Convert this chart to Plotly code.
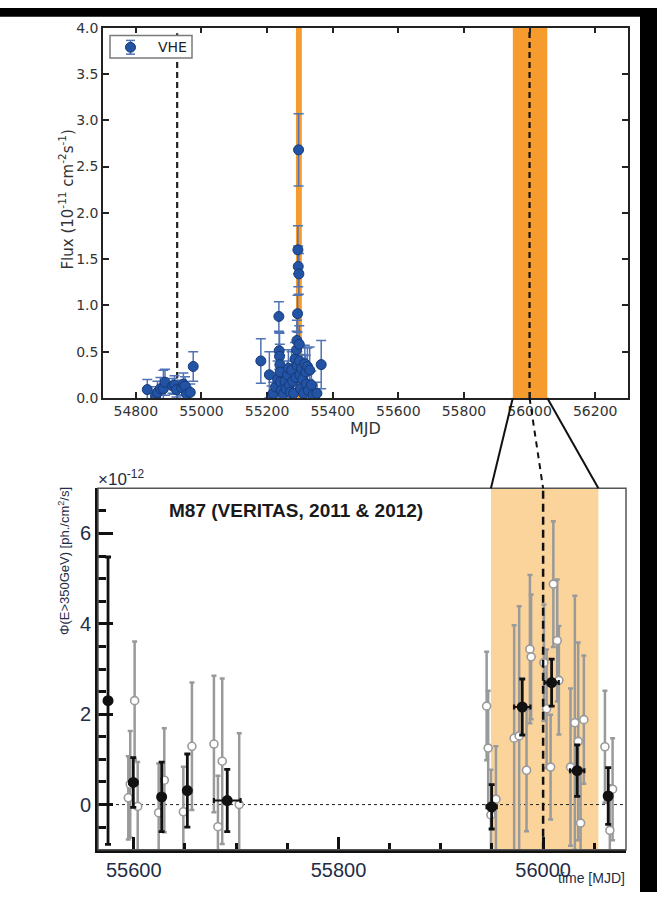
import plotly.graph_objects as go

W, H = 657, 900

# ---------------- upper panel: VHE light curve 2008-2012 ----------------
vhe_mjd = [54835, 54860, 54866, 54875, 54884, 54889, 54912, 54918, 54924,
           54940, 54945, 54950, 54955, 54966, 54975,
           55181, 55207, 55214, 55219, 55226, 55232, 55236, 55237, 55238,
           55239, 55240, 55241, 55243, 55250, 55255, 55258, 55262, 55265,
           55268, 55271, 55275, 55278, 55281, 55285, 55288, 55290, 55291,
           55292, 55293, 55294, 55295, 55296, 55297, 55298, 55299, 55300,
           55302, 55305, 55308, 55311, 55315, 55318, 55320, 55323, 55326,
           55330, 55335, 55340, 55352, 55365]
vhe_flux = [0.09, 0.02, 0.06, 0.10, 0.10, 0.17, 0.13, 0.14, 0.09,
            0.11, 0.15, 0.13, 0.04, 0.06, 0.34,
            0.40, 0.25, 0.03, 0.05, 0.12, 0.20, 0.88, 0.51, 0.45,
            0.36, 0.28, 0.17, 0.08, 0.04, 0.18, 0.10, 0.25, 0.32,
            0.14, 0.06, 0.30, 0.18, 0.05, 0.42, 0.22, 0.52, 0.62,
            0.35, 0.91, 1.60, 1.42, 2.68, 1.34, 0.58, 0.40, 0.25,
            0.10, 0.32, 0.20, 0.05, 0.37, 0.28, 0.15, 0.34, 0.08,
            0.30, 0.14, 0.03, 0.05, 0.36]
vhe_err = [0.11, 0.10, 0.12, 0.12, 0.20, 0.14, 0.08, 0.10, 0.08,
           0.08, 0.12, 0.10, 0.08, 0.09, 0.16,
           0.24, 0.25, 0.10, 0.12, 0.15, 0.20, 0.16, 0.20, 0.25,
           0.22, 0.18, 0.15, 0.12, 0.10, 0.14, 0.12, 0.15, 0.20,
           0.15, 0.12, 0.20, 0.15, 0.10, 0.18, 0.15, 0.20, 0.22,
           0.15, 0.20, 0.26, 0.22, 0.39, 0.22, 0.20, 0.18, 0.15,
           0.12, 0.15, 0.14, 0.10, 0.20, 0.18, 0.15, 0.20, 0.12,
           0.25, 0.15, 0.10, 0.12, 0.26]

flare_2010 = (55288, 55306)
flare_2012 = (55949, 56054)
vline_2009 = 54926
vline_2012 = 56000

# ---------------- lower panel: VERITAS 2011 & 2012 ----------------
night_mjd = [55594.6, 55596.5, 55600.8, 55603.8, 55624.3, 55629.8, 55648.4,
             55656.8, 55678.3, 55682.2, 55686.4, 55703.0,
             55944.8, 55946.3, 55949.0, 55953.9, 55971.7, 55976.6, 55983.8,
             55987.1, 55988.3, 56000.8, 56003.4, 56007.3, 56010.0, 56013.8,
             56015.4, 56026.8, 56031.0, 56034.3, 56036.6, 56039.8, 56060.4,
             56065.2, 56067.9]
night_flux = [0.15, 0.45, 2.30, -0.04, -0.18, 0.54, -0.16,
              1.29, 1.34, -0.49, 0.96, 0.00,
              2.18, 1.25, -0.23, 0.12, 1.47, 1.52, 0.76,
              3.44, 3.27, 3.14, 2.12, 0.83, 4.88, 3.63,
              2.75, 0.83, 1.81, 1.40, -0.41, 1.88, 1.28,
              -0.57, 0.34]
night_err = [0.92, 1.18, 1.31, 0.98, 1.09, 1.15, 1.00,
             1.41, 1.51, 1.13, 1.83, 1.58,
             1.20, 1.27, 1.00, 1.17, 2.50, 2.87, 1.35,
             1.64, 1.38, 1.29, 1.31, 1.16, 1.39, 1.35,
             1.20, 1.74, 2.81, 2.19, 1.20, 1.42, 1.24,
             1.00, 1.13]

bin_mjd = [55574.8, 55599.5, 55627.2, 55652.3, 55691.3,
           55949.7, 55979.6, 56008.3, 56033.3, 56063.6]
bin_flux = [2.30, 0.49, 0.17, 0.31, 0.09, -0.05, 2.16, 2.70, 0.75, 0.19]
bin_err = [3.18, 0.55, 0.77, 0.81, 0.69, 0.49, 0.62, 0.52, 0.57, 0.63]
bin_xerr = [0, 4, 0, 0, 13, 5, 8, 7, 7, 0]

# ---------------- panel geometry ----------------
top_xr, top_yr = [54700, 56300], [0, 4]
bot_xr, bot_yr = [55565, 56081], [-1, 7]
top_xd = [103 / W, 628 / W]
top_yd = [1 - 397 / H, 1 - 20 / H]
bot_xd = [98 / W, 626 / W]
bot_yd = [1 - 857 / H, 1 - 489 / H]


def paper_x(v, rng, dom):
    return dom[0] + (v - rng[0]) / (rng[1] - rng[0]) * (dom[1] - dom[0])


def px(x):
    return x / W


def py(y):
    return 1 - y / H


ORANGE = "#f69b2e"
ORANGE_LIGHT = "#fbd49c"
BLUE = "#2253a4"
BLUE_EDGE = "#173a78"
BLUE_BAR = "#4f73b5"

fig = go.Figure()

fig.add_trace(go.Scatter(
    x=vhe_mjd, y=vhe_flux, mode="markers", name="VHE",
    error_y=dict(type="data", array=vhe_err, color=BLUE_BAR,
                 thickness=1.5, width=5),
    marker=dict(color=BLUE, size=10, line=dict(color=BLUE_EDGE, width=1)),
    xaxis="x", yaxis="y", showlegend=False,
))

fig.add_trace(go.Scatter(
    x=night_mjd, y=night_flux, mode="markers",
    error_y=dict(type="data", array=night_err, color="#9a9a9a",
                 thickness=2.5, width=2.5),
    marker=dict(color="white", size=8, line=dict(color="#9a9a9a", width=1.6)),
    xaxis="x2", yaxis="y2", showlegend=False,
))

fig.add_trace(go.Scatter(
    x=bin_mjd, y=bin_flux, mode="markers",
    error_y=dict(type="data", array=bin_err, color="#111111",
                 thickness=2.8, width=3),
    error_x=dict(type="data", array=bin_xerr, color="#111111",
                 thickness=2.2, width=2.5),
    marker=dict(color="#111111", size=11),
    xaxis="x2", yaxis="y2", showlegend=False,
))

shapes = [
    # dark strips along the top and right edge of the page
    dict(type="rect", xref="paper", yref="paper", x0=0, x1=1,
         y0=py(9), y1=1, fillcolor="black", line=dict(width=0),
         layer="above"),
    dict(type="rect", xref="paper", yref="paper", x0=px(640), x1=1,
         y0=0, y1=1, fillcolor="black", line=dict(width=0), layer="above"),
    # upper panel flare windows
    dict(type="rect", xref="x", yref="y domain", x0=flare_2010[0],
         x1=flare_2010[1], y0=0, y1=1, fillcolor=ORANGE,
         line=dict(width=0), layer="below"),
    dict(type="rect", xref="x", yref="y domain", x0=flare_2012[0],
         x1=flare_2012[1], y0=0, y1=1, fillcolor=ORANGE,
         line=dict(width=0), layer="below"),
    dict(type="line", xref="x", yref="y domain", x0=vline_2009, x1=vline_2009,
         y0=0, y1=0.985, line=dict(color="#222222", width=2.2,
                                   dash="6px,4px"),
         layer="below"),
    dict(type="line", xref="x", yref="y domain", x0=vline_2012, x1=vline_2012,
         y0=0, y1=1, line=dict(color="#111111", width=2.2, dash="6px,4px"),
         layer="below"),
    # lower panel shaded window, zero line, dashed marker
    dict(type="rect", xref="x2", yref="y2 domain", x0=flare_2012[0],
         x1=flare_2012[1], y0=0, y1=1, fillcolor=ORANGE_LIGHT,
         line=dict(width=0), layer="below"),
    dict(type="line", xref="x2 domain", yref="y2", x0=0, x1=1, y0=0, y1=0,
         line=dict(color="#222222", width=1, dash="dot"), layer="below"),
    dict(type="line", xref="x2", yref="y2 domain", x0=vline_2012,
         x1=vline_2012, y0=0, y1=1,
         line=dict(color="#111111", width=2.5, dash="8px,5px"),
         layer="above"),
    # thin frame on the lower panel
    dict(type="rect", xref="x2 domain", yref="y2 domain", x0=0, x1=1,
         y0=0, y1=1, line=dict(color="#555555", width=1.5),
         fillcolor="rgba(0,0,0,0)", layer="above"),
    # legend box with an error-bar marker
    dict(type="rect", xref="paper", yref="paper", x0=px(110), x1=px(192),
         y0=py(51), y1=py(28), fillcolor="white",
         line=dict(color="#7a7a7a", width=1.5), layer="above"),
    dict(type="line", xref="paper", yref="paper", x0=px(130.5), x1=px(130.5),
         y0=py(47), y1=py(33), line=dict(color=BLUE_BAR, width=1.5),
         layer="above"),
    dict(type="line", xref="paper", yref="paper", x0=px(126), x1=px(135),
         y0=py(33), y1=py(33), line=dict(color=BLUE_BAR, width=1.5),
         layer="above"),
    dict(type="line", xref="paper", yref="paper", x0=px(126), x1=px(135),
         y0=py(47), y1=py(47), line=dict(color=BLUE_BAR, width=1.5),
         layer="above"),
    dict(type="circle", xref="paper", yref="paper", x0=px(125.5),
         x1=px(135.5), y0=py(45), y1=py(35), fillcolor=BLUE,
         line=dict(color=BLUE_EDGE, width=1), layer="above"),
]

# zoom connectors between the two panels
for v, dash in [(flare_2012[0], "solid"), (flare_2012[1], "solid"),
                (vline_2012, "6px,5px")]:
    shapes.append(dict(
        type="line", xref="paper", yref="paper",
        x0=paper_x(v, top_xr, top_xd), y0=top_yd[0],
        x1=paper_x(v, bot_xr, bot_xd), y1=bot_yd[1],
        line=dict(color="#111111", width=2, dash=dash)))

TOPFONT = dict(family="DejaVu Sans", size=14, color="#333333")
BOTFONT = dict(family="Liberation Sans", size=20, color="#1f2d45")


def note(text, x, y, size, family, color, xanchor="center", angle=0):
    return dict(text=text, xref="paper", yref="paper", x=px(x), y=py(y),
                xanchor=xanchor, yanchor="middle", textangle=angle,
                showarrow=False,
                font=dict(family=family, size=size, color=color))


annotations = [
    note("Flux (10<sup>-11</sup> cm<sup>-2</sup>s<sup>-1</sup>)", 66, 195,
         15, "DejaVu Sans", "#333333", angle=-90),
    note("MJD", 365, 428, 16, "DejaVu Sans", "#333333"),
    note("VHE", 156, 40, 14, "DejaVu Sans", "#222222", xanchor="left"),
    note("×10<sup>-12</sup>", 96, 479, 17, "Liberation Sans", "#1f2d45",
         xanchor="left"),
    note("<b>M87 (VERITAS, 2011 & 2012)</b>", 296, 512, 19,
         "Liberation Sans", "#1a1a1a"),
    note("Φ(E>350GeV) [ph./cm<sup>2</sup>/s]", 64, 563, 13,
         "Liberation Sans", "#1f2d45", angle=-90),
    note("time [MJD]", 627, 886, 14, "Liberation Sans", "#1f2d45",
         xanchor="right"),
]

fig.update_layout(
    width=W, height=H, margin=dict(l=0, r=0, t=0, b=0),
    paper_bgcolor="white", plot_bgcolor="white",
    shapes=shapes, annotations=annotations, showlegend=False,
    xaxis=dict(domain=top_xd, range=top_xr, tick0=54800, dtick=200,
               tickformat="d",
               showline=True, linecolor="#222222", linewidth=1.5,
               mirror="ticks", ticks="inside", ticklen=6, tickwidth=1.5,
               tickcolor="#222222", showgrid=False, zeroline=False,
               tickfont=TOPFONT, anchor="y"),
    yaxis=dict(domain=top_yd, range=top_yr, tick0=0, dtick=0.5,
               tickformat=".1f", showline=True, linecolor="#222222",
               linewidth=1.5, mirror="ticks", ticks="inside", ticklen=6,
               tickwidth=1.5, tickcolor="#222222", showgrid=False,
               zeroline=False, tickfont=TOPFONT, anchor="x"),
    xaxis2=dict(domain=bot_xd, range=bot_xr, tick0=55600, dtick=200,
                tickformat="d",
                showline=True, linecolor="#111111", linewidth=3,
                ticks="inside", ticklen=13, tickwidth=2.5,
                tickcolor="#111111", showgrid=False, zeroline=False,
                tickfont=BOTFONT, anchor="y2",
                minor=dict(ticks="inside", dtick=50, ticklen=7,
                           tickwidth=2.5, tickcolor="#111111",
                           showgrid=False)),
    yaxis2=dict(domain=bot_yd, range=bot_yr, tick0=0, dtick=2,
                showline=True, linecolor="#111111", linewidth=3,
                ticks="inside", ticklen=15, tickwidth=2.5,
                tickcolor="#111111", showgrid=False, zeroline=False,
                tickfont=BOTFONT, anchor="x2",
                minor=dict(ticks="inside", dtick=0.5, ticklen=8,
                           tickwidth=2.5, tickcolor="#111111",
                           showgrid=False)),
)

fig.write_html("out.html")
